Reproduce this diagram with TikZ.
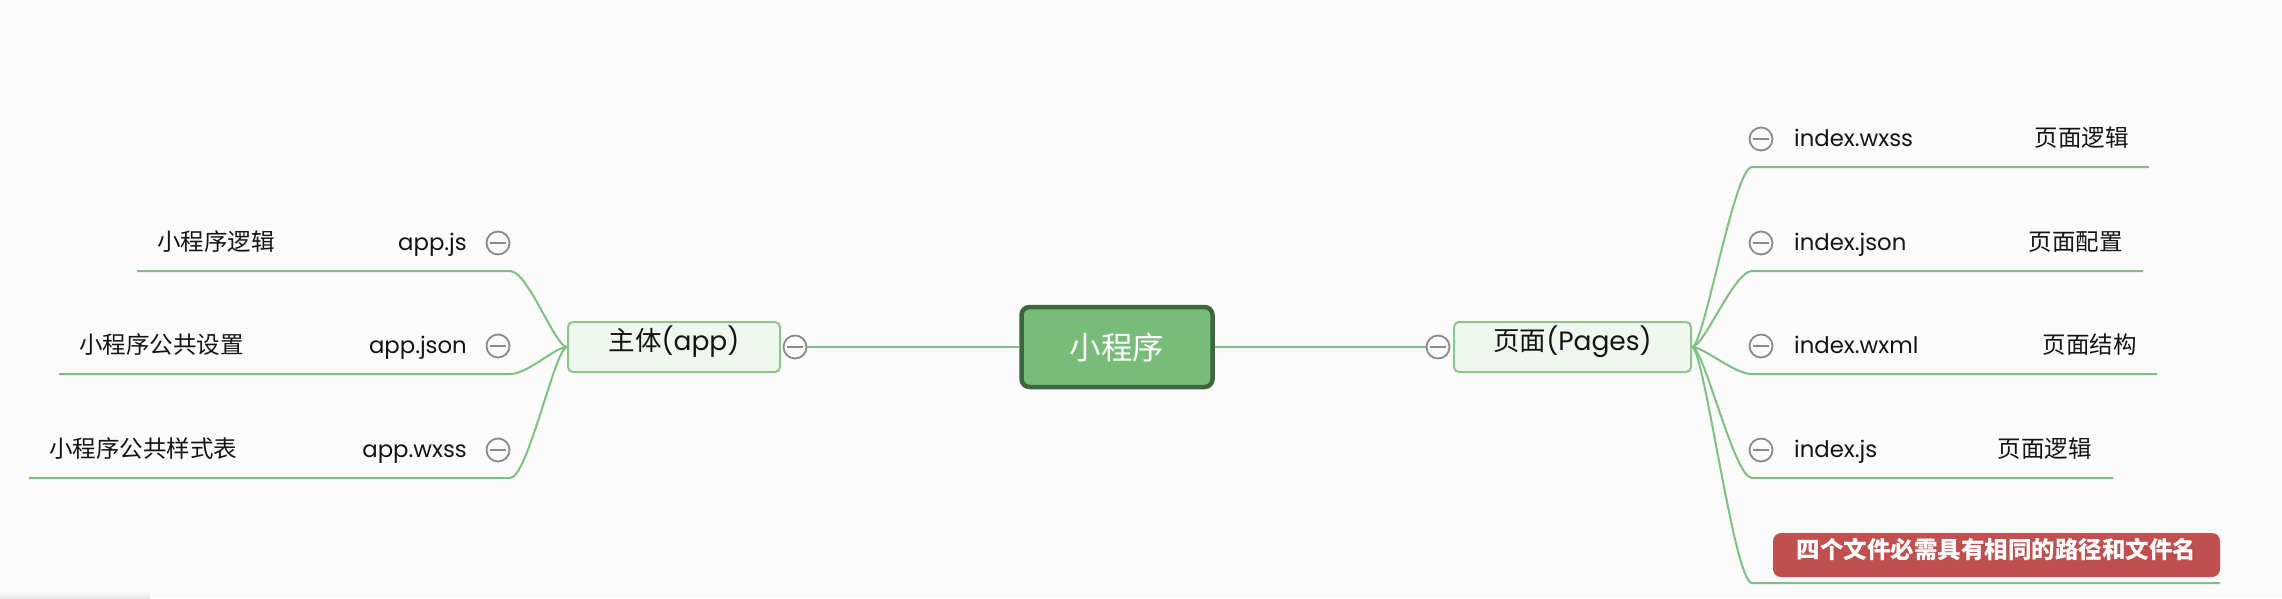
\documentclass[tikz,border=0pt]{standalone}
\usepackage{fontspec}
\setmainfont{Poppins}
\newfontfamily\cjk{Noto Sans CJK SC}
\definecolor{bg}{HTML}{FBFBFB}
\definecolor{linegreen}{HTML}{80BF82}
\definecolor{subfill}{HTML}{F0F7EF}
\definecolor{subdraw}{HTML}{8CC68E}
\definecolor{mainfill}{HTML}{77BD79}
\definecolor{maindraw}{HTML}{3C673E}
\definecolor{notefill}{HTML}{C0504F}
\definecolor{foldgray}{HTML}{8A8A8A}
\definecolor{txt}{HTML}{141414}
\tikzset{
  mainbox/.style={draw=maindraw, line width=4.5pt, fill=mainfill, rounded corners=8pt,
    minimum width=191pt, minimum height=80pt, inner sep=0pt, text=white,
    font=\cjk\fontsize{31.5}{31.5}\selectfont},
  subbox/.style={draw=subdraw, line width=2pt, fill=subfill, rounded corners=5pt,
    minimum height=50pt, inner sep=0pt, text=txt,
    font=\fontsize{26.5}{26.5}\selectfont, text height=0.78em, text depth=0.12em},
  notebox/.style={fill=notefill, rounded corners=8pt, minimum width=447pt, minimum height=44pt,
    inner sep=0pt, text=white, font=\cjk\bfseries\fontsize{23.5}{23.5}\selectfont,
    text height=0.78em, text depth=0.1em},
  conn/.style={draw=linegreen, line width=2pt},
  fold/.style={circle, draw=foldgray, line width=1.8pt, fill=bg, minimum size=23pt, inner sep=0pt,
    path picture={\draw[foldgray, line width=1.8pt]
      ([xshift=-8pt]path picture bounding box.center) -- ([xshift=8pt]path picture bounding box.center);}},
  lat/.style={inner sep=0pt, text=txt, font=\fontsize{22.8}{22.8}\selectfont},
  han/.style={inner sep=0pt, text=txt, font=\cjk\fontsize{23.5}{23.5}\selectfont},
}
\begin{document}
\begin{tikzpicture}[x=1pt, y=-1pt]
\useasboundingbox (0,0) rectangle (2282,598);
\fill[bg] (0,0) rectangle (2282,598);
\shade[top color=bg, bottom color=black!10] (0,591) rectangle (150,598);

% central topic and main branches
\node[mainbox] (root) at (1117,347) {小程序};
\node[subbox, minimum width=212pt] (app) at (674,347) {{\cjk 主体}(app)};
\node[subbox, minimum width=237pt] (pages) at (1572.5,347) {{\cjk 页面}(Pages)};
\node[fold] (fapp) at (795,347) {};
\node[fold] (fpages) at (1438,347) {};
\draw[conn] (root.west) -- (fapp.east);
\draw[conn] (root.east) -- (fpages.west);

% left children
\coordinate (a1c) at (510,271); \coordinate (a1e) at (137,271);
\coordinate (a2c) at (510,374); \coordinate (a2e) at (59,374);
\coordinate (a3c) at (510,478); \coordinate (a3e) at (29,478);
\foreach \c/\e in {a1c/a1e, a2c/a2e, a3c/a3e}
  \draw[conn] (app.west) .. controls +(-12,0) and +(18,0) .. (\c) -- (\e);
\node[lat, anchor=base east] (tappjs) at (467,250) {app.js};
\node[lat, anchor=base east] (tappjson) at (467,353) {app.json};
\node[lat, anchor=base east] (tappwxss) at (467,457) {app.wxss};
\node[fold] (f1) at (498,243) {};
\node[fold] (f2) at (498,346) {};
\node[fold] (f3) at (498,450) {};
\node[han, anchor=base west] (l1) at (157,250) {小程序逻辑};
\node[han, anchor=base west] (l2) at (79,353) {小程序公共设置};
\node[han, anchor=base west] (l3) at (49,457) {小程序公共样式表};

% right children
\coordinate (p1c) at (1752,167); \coordinate (p1e) at (2149,167);
\coordinate (p2c) at (1752,271); \coordinate (p2e) at (2143,271);
\coordinate (p3c) at (1752,374); \coordinate (p3e) at (2157,374);
\coordinate (p4c) at (1752,478); \coordinate (p4e) at (2113,478);
\coordinate (p5c) at (1752,583); \coordinate (p5e) at (2220,583);
\foreach \c/\e in {p1c/p1e, p2c/p2e, p3c/p3e, p4c/p4e, p5c/p5e}
  \draw[conn] (pages.east) .. controls +(12,0) and +(-18,0) .. (\c) -- (\e);
\node[fold] (g1) at (1761,139) {};
\node[fold] (g2) at (1761,243) {};
\node[fold] (g3) at (1761,346) {};
\node[fold] (g4) at (1761,450) {};
\node[lat, anchor=base west] (twxss) at (1794,146) {index.wxss};
\node[lat, anchor=base west] (tjson) at (1794,250) {index.json};
\node[lat, anchor=base west] (twxml) at (1794,353) {index.wxml};
\node[lat, anchor=base west] (tjs) at (1794,457) {index.js};
\node[han, anchor=base east] (r1) at (2129,146) {页面逻辑};
\node[han, anchor=base east] (r2) at (2123,250) {页面配置};
\node[han, anchor=base east] (r3) at (2137,353) {页面结构};
\node[han, anchor=base east] (r4) at (2092,457) {页面逻辑};
\node[notebox] (note) at (1996.5,555) {四个文件必需具有相同的路径和文件名};
\end{tikzpicture}
\end{document}
